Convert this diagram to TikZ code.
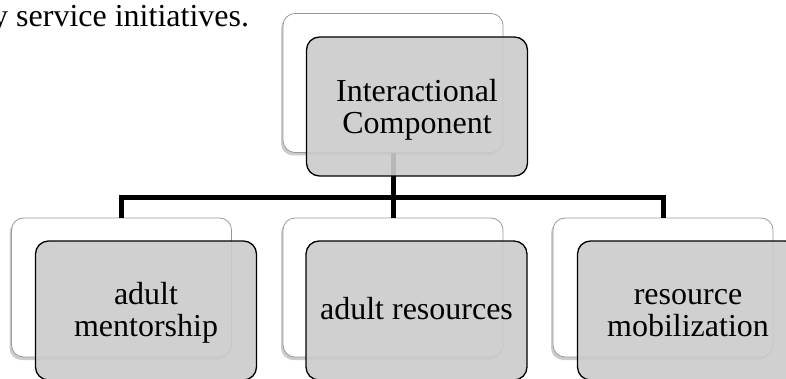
\documentclass[tikz,border=0pt]{standalone}
\usepackage{fontspec}
\setmainfont{Liberation Serif}
\usetikzlibrary{shadows}
\definecolor{boxgray}{RGB}{203,203,203}
\begin{document}
\begin{tikzpicture}[x=1pt,y=-1pt,
  backbox/.style={draw=black!40, line width=0.8pt, fill=white, rounded corners=12pt,
    minimum width=220pt, minimum height=139pt, inner sep=0pt,
    drop shadow={shadow xshift=-2pt, shadow yshift=-3pt, fill=black, opacity=0.2}},
  frontbox/.style={draw=black, line width=1.3pt, fill=boxgray, fill opacity=0.9,
    draw opacity=1, rounded corners=13pt, minimum width=221pt, minimum height=139pt,
    inner sep=0pt},
  boxtext/.style={inner sep=0pt, align=center, font=\fontsize{32}{32}\selectfont},
  conn/.style={line width=5pt, black}]
\useasboundingbox (0,0) rectangle (786,379);
\node[anchor=base west, inner sep=0pt, font=\fontsize{32}{32}\selectfont] (prev) at (-8,27) {y service initiatives.};
% back boxes
\node[backbox] (tb) at (393,83) {};
\node[backbox] (b1) at (121.5,287.5) {};
\node[backbox] (b2) at (393,287.5) {};
\node[backbox] (b3) at (663,287.5) {};
% connectors
\coordinate (j) at (393,198);
\draw[conn] (b1.north) |- (j) -| (b3.north);
\draw[conn] (tb.south) -- (b2.north);
% front boxes
\node[frontbox] (tf) at (417,106.5) {};
\node[frontbox] (f1) at (146,310.5) {};
\node[frontbox] (f2) at (416.5,310.5) {};
\node[frontbox] (f3) at (688,310.5) {};
% texts
\node[boxtext] (tft) at ([yshift=-4.5pt]tf.center) {\strut Interactional\\\strut Component};
\node[boxtext] (f1t) at ([yshift=-4pt]f1.center) {\strut adult\\\strut mentorship};
\node[boxtext] (f2t) at ([yshift=-3pt]f2.center) {\strut adult resources};
\node[boxtext] (f3t) at ([yshift=-4pt]f3.center) {\strut resource\\\strut mobilization};
\end{tikzpicture}
\end{document}
